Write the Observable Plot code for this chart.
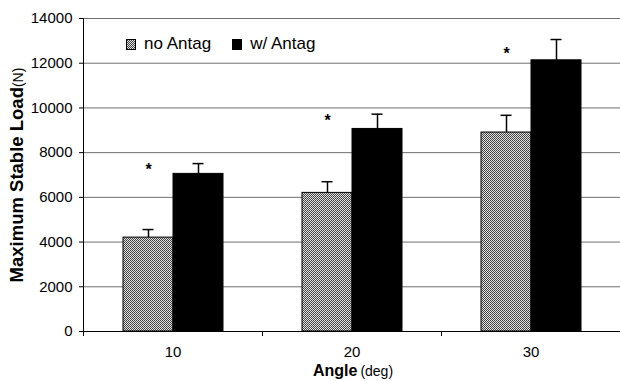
<!DOCTYPE html>
<html>
<head>
<meta charset="utf-8">
<script src="https://cdn.jsdelivr.net/npm/d3@7"></script>
<script src="https://cdn.jsdelivr.net/npm/@observablehq/plot@0.6"></script>
<style>
  html, body { margin: 0; padding: 0; background: #fff; }
  #wrap { position: relative; width: 620px; height: 381px; font-family: "Liberation Sans", Arial, sans-serif; color: #000; }
  #wrap svg.plot { position: absolute; left: 0; top: 0; }
  .ytitle { position: absolute; left: 17px; top: 175px; transform: translate(-50%, -50%) rotate(-90deg); white-space: nowrap; font-size: 18.5px; font-weight: bold; }
  .ytitle span { font-weight: normal; font-size: 14px; }
  .xtitle { position: absolute; left: 353px; top: 371px; transform: translate(-50%, -50%); white-space: nowrap; font-size: 16px; font-weight: bold; }
  .xtitle span { font-weight: normal; font-size: 14px; margin-left: 3px; }
  .legend { position: absolute; left: 126px; top: 34px; font-size: 17px; display: flex; align-items: center; white-space: nowrap; }
  .legend svg { margin-right: 8px; }
  .legend .item { display: flex; align-items: center; margin-right: 21px; }
</style>
</head>
<body>
<svg width="0" height="0" style="position:absolute">
  <defs>
    <pattern id="stipple" width="2" height="2" patternUnits="userSpaceOnUse">
      <rect width="2" height="2" fill="#e2e2e2"></rect>
      <rect width="1" height="1" fill="#3c3c3c"></rect>
      <rect x="1" y="1" width="1" height="1" fill="#4a4a4a"></rect>
    </pattern>
  </defs>
</svg>
<div id="wrap"></div>
<script>
const angles = [10, 20, 30];
const series = ["no Antag", "w/ Antag"];
const noAntag = [4200, 6200, 8900];
const wAntag = [7050, 9060, 12130];
const noAntagErr = [360, 500, 770];
const wAntagErr = [460, 660, 930];
const sigY = [7250, 9400, 12400];
const yTicks = [0, 2000, 4000, 6000, 8000, 10000, 12000, 14000];
const seriesFill = ["url(#stipple)", "#000"];

const rows = angles.flatMap((a, i) => [
  {angle: a, series: series[0], value: noAntag[i], top: noAntag[i] + noAntagErr[i]},
  {angle: a, series: series[1], value: wAntag[i], top: wAntag[i] + wAntagErr[i]}
]);
const sig = angles.map((a, i) => ({angle: a, series: series[0], y: sigY[i]}));

const W = 620, H = 381, ML = 83, MR = 0, MT = 18, MB = 50;
const facetHalf = (W - ML - MR) / angles.length / 2;

const chart = Plot.plot({
  width: W, height: H,
  marginLeft: ML, marginRight: MR, marginTop: MT, marginBottom: MB,
  style: {fontFamily: "'Liberation Sans', Arial, sans-serif", fontSize: "15px", color: "#000", background: "#fff"},
  fx: {domain: angles, padding: 0, label: null},
  x: {domain: series, paddingInner: 0, paddingOuter: 0.755, axis: null},
  y: {domain: [0, 14000], label: null},
  color: {domain: series, range: seriesFill},
  marks: [
    Plot.ruleY(yTicks.slice(1), {stroke: "#6e6e6e", strokeWidth: 1}),
    Plot.barY(rows, {fx: "angle", x: "series", y: "value", fill: "series", stroke: "#000", strokeWidth: 1}),
    Plot.ruleX(rows, {fx: "angle", x: "series", y1: "value", y2: "top", stroke: "#000", strokeWidth: 1.5}),
    Plot.tickY(rows, {fx: "angle", x: "series", y: "top", stroke: "#000", strokeWidth: 1.5, insetLeft: 19.5, insetRight: 19.5}),
    Plot.text(sig, {fx: "angle", x: "series", y: "y", text: () => "*", fontSize: 16, fontWeight: "bold", lineAnchor: "middle"}),
    Plot.ruleY([0], {stroke: "#000", strokeWidth: 1}),
    Plot.frame({anchor: "left", facetAnchor: "left", stroke: "#000", insetBottom: -4}),
    Plot.axisY({ticks: yTicks, tickFormat: d => String(d), tickSize: 4, tickPadding: 7, label: null, fontSize: 15}),
    Plot.axisFx({anchor: "bottom", tickSize: 0, tickPadding: 15, label: null, fontSize: 15}),
    Plot.axisFx({anchor: "bottom", tickSize: 5, tickFormat: () => "", label: null, dx: -facetHalf})
  ]
});
chart.classList.add("plot");

const wrap = document.getElementById("wrap");
wrap.appendChild(chart);

const yt = document.createElement("div");
yt.className = "ytitle";
yt.innerHTML = "Maximum Stable Load<span>(N)</span>";
wrap.appendChild(yt);

const xt = document.createElement("div");
xt.className = "xtitle";
xt.innerHTML = "Angle<span>(deg)</span>";
wrap.appendChild(xt);

const lg = document.createElement("div");
lg.className = "legend";
series.forEach((s, i) => {
  const item = document.createElement("div");
  item.className = "item";
  item.innerHTML = `<svg width="10" height="11"><rect x="0.5" y="0.5" width="9" height="10" fill="${seriesFill[i]}" stroke="#000" stroke-width="1"></rect></svg>`;
  item.appendChild(document.createTextNode(s));
  lg.appendChild(item);
});
wrap.appendChild(lg);
</script>
</body>
</html>
